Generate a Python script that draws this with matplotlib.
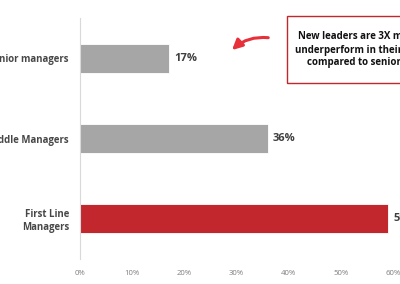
import matplotlib
matplotlib.use('Agg')
import matplotlib.pyplot as plt
from matplotlib.patches import Rectangle

categories = ['Senior managers', 'Middle Managers', 'First Line\nManagers']
values = [17, 36, 59]
bar_colors = ['#a6a6a6', '#a6a6a6', '#c1272d']
xticks = [0, 10, 20, 30, 40, 50, 60]
callout_lines = ['New leaders are 3X more likely to',
                 'underperform in their new roles',
                 'compared to senior managers']

plt.rcParams['font.family'] = ['Open Sans', 'DejaVu Sans']

fig = plt.figure(figsize=(4, 2.84), dpi=100)
ax = fig.add_axes([0.2, 0.088, 0.7825, 0.8486])

pos = list(range(len(categories)))
ax.barh(pos, values, height=0.36, color=bar_colors, edgecolor='white', linewidth=0.6)
ax.set_ylim(2.5, -0.5)
ax.set_xlim(0, 60)

for p, v in zip(pos, values):
    ax.text(v + 1.0, p, f'{v}%', va='center', ha='left', fontsize=8,
            fontweight='bold', color='#3f3f3f', clip_on=False)

ax.set_yticks(pos)
ax.set_yticklabels(categories, fontsize=6.9, fontweight='bold', color='#474747',
                   linespacing=1.25)
ax.set_xticks(xticks)
ax.set_xticklabels([f'{t}%' for t in xticks], fontsize=5.6, color='#7f7f7f')
ax.tick_params(axis='x', length=0, pad=8)
ax.tick_params(axis='y', length=0, pad=8)

for s in ['top', 'right', 'bottom']:
    ax.spines[s].set_visible(False)
ax.spines['left'].set_color('#d9d9d9')
ax.spines['left'].set_linewidth(0.8)

# callout box, runs off the right edge
fig.patches.append(Rectangle((287 / 400, 1 - 83 / 284), 0.5, 67 / 284,
                             transform=fig.transFigure, fill=False,
                             edgecolor='#c1272d', linewidth=1.0))
for i, line in enumerate(callout_lines):
    fig.text([298, 295, 307][i] / 400, 1 - (37 + 13 * i) / 284, line,
             ha='left', va='center', fontsize=7.0, fontweight='bold', color='#111111')

# hand drawn arrow
ax.annotate('', xy=(230 / 400, 1 - 52 / 284), xycoords='figure fraction',
            xytext=(271 / 400, 1 - 38 / 284), textcoords='figure fraction',
            arrowprops=dict(arrowstyle='-|>,head_length=0.6,head_width=0.3',
                            color='#e8303a', lw=2.2,
                            connectionstyle='arc3,rad=0.25'))

fig.savefig('out.png', dpi=100)
plt.close(fig)
